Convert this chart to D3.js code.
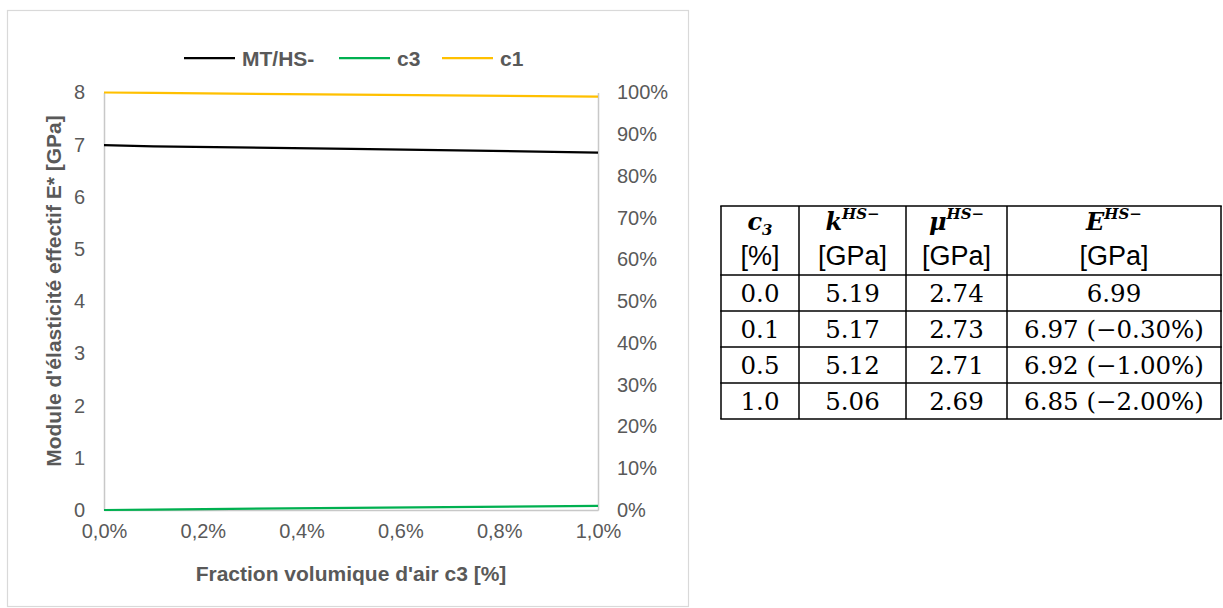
<!DOCTYPE html>
<html><head><meta charset="utf-8">
<script src="https://cdn.jsdelivr.net/npm/d3@7"></script>
<style>body{margin:0;background:#fff}</style>
</head><body><svg id="c" width="1223" height="608"></svg>
<script>
// ---- data ----
const xValues = [0, 0.1, 0.5, 1.0];            // c3 [%]
const modulusHS = [6.99, 6.97, 6.92, 6.85];     // MT/HS- [GPa]
const fracC3 = [0, 0.001, 0.005, 0.01];         // secondary axis
const fracC1 = [1, 0.999, 0.995, 0.99];         // secondary axis
const xTicks = [0, 0.2, 0.4, 0.6, 0.8, 1.0];
const xTickLabels = ["0,0%", "0,2%", "0,4%", "0,6%", "0,8%", "1,0%"];
const yTicks = [0, 1, 2, 3, 4, 5, 6, 7, 8];
const y2Ticks = [0, 0.1, 0.2, 0.3, 0.4, 0.5, 0.6, 0.7, 0.8, 0.9, 1.0];
const y2TickLabels = ["0%", "10%", "20%", "30%", "40%", "50%", "60%", "70%", "80%", "90%", "100%"];
const seriesNames = ["MT/HS-", "c3", "c1"];
const seriesColors = ["#000000", "#00b050", "#ffc000"];
const xTitle = "Fraction volumique d'air c3 [%]";
const yTitle = "Module d'élasticité effectif E* [GPa]";
// table
const colC3 = ["0.0", "0.1", "0.5", "1.0"];
const colK = ["5.19", "5.17", "5.12", "5.06"];
const colMu = ["2.74", "2.73", "2.71", "2.69"];
const colE = ["6.99", "6.97 (−0.30%)", "6.92 (−1.00%)", "6.85 (−2.00%)"];
const headSym = [["c", "3", "sub"], ["k", "HS−", "sup"], ["μ", "HS−", "sup"], ["E", "HS−", "sup"]];
const headUnit = ["[%]", "[GPa]", "[GPa]", "[GPa]"];

// ---- layout ----
const svg = d3.select("#c");
const sans = "'Liberation Sans', Arial, sans-serif";
const serif = "'DejaVu Serif', 'Liberation Serif', serif";
const grey = "#595959";
svg.append("rect").attr("width", 1223).attr("height", 608).attr("fill", "#fff");
svg.append("rect").attr("x", 7.5).attr("y", 10.5).attr("width", 681).attr("height", 596)
  .attr("fill", "none").attr("stroke", "#d9d9d9").attr("stroke-width", 1.2);

const x = d3.scaleLinear().domain([0, 1]).range([104, 598]);
const y = d3.scaleLinear().domain([0, 8]).range([510, 92.5]);
const y2 = d3.scaleLinear().domain([0, 1]).range([510, 92.5]);

function styleAxis(g) {
  g.select(".domain").attr("stroke", "#c8c8c8").attr("stroke-width", 1.5);
  g.selectAll("text").attr("font-family", sans).attr("font-size", 20).attr("fill", grey);
}
svg.append("g").attr("transform", "translate(104,0)")
  .call(d3.axisLeft(y).tickValues(yTicks).tickSize(0).tickPadding(19).tickSizeOuter(0))
  .call(styleAxis);
svg.append("g").attr("transform", "translate(598,0)")
  .call(d3.axisRight(y2).tickValues(y2Ticks).tickSize(0).tickPadding(19).tickSizeOuter(0)
    .tickFormat((d, i) => y2TickLabels[i]))
  .call(styleAxis);
svg.append("g").attr("transform", "translate(0,510)")
  .call(d3.axisBottom(x).tickValues(xTicks).tickSize(0).tickPadding(14).tickSizeOuter(0)
    .tickFormat((d, i) => xTickLabels[i]))
  .call(styleAxis);

const series = [
  xValues.map((v, i) => [x(v), y(modulusHS[i])]),
  xValues.map((v, i) => [x(v), y2(fracC3[i])]),
  xValues.map((v, i) => [x(v), y2(fracC1[i])])
];
const line = d3.line();
series.forEach((pts, i) => {
  svg.append("path").attr("d", line(pts)).attr("fill", "none")
    .attr("stroke", seriesColors[i]).attr("stroke-width", 2.25);
});

// titles
svg.append("text").attr("x", 351).attr("y", 581).attr("text-anchor", "middle")
  .attr("font-family", sans).attr("font-weight", "bold").attr("font-size", 21).attr("fill", grey).text(xTitle);
svg.append("text").attr("transform", "translate(61,291) rotate(-90)").attr("text-anchor", "middle")
  .attr("font-family", sans).attr("font-weight", "bold").attr("font-size", 21).attr("fill", grey).text(yTitle);

// legend
const legX = [184, 339, 442];
seriesNames.forEach((n, i) => {
  svg.append("line").attr("x1", legX[i]).attr("x2", legX[i] + 51).attr("y1", 58).attr("y2", 58)
    .attr("stroke", seriesColors[i]).attr("stroke-width", 2.25);
  svg.append("text").attr("x", legX[i] + 58).attr("y", 58).attr("dy", "0.36em")
    .attr("font-family", sans).attr("font-weight", "bold").attr("font-size", 21).attr("fill", grey).text(n);
});

// ---- table ----
const colEdges = [721, 799, 906, 1007, 1221];
const rowEdges = [206, 275, 311, 347, 383, 419];
const tb = svg.append("g");
colEdges.forEach(cx => tb.append("line").attr("x1", cx).attr("x2", cx)
  .attr("y1", rowEdges[0]).attr("y2", rowEdges[rowEdges.length - 1]).attr("stroke", "#000").attr("stroke-width", 1.5));
rowEdges.forEach(ry => tb.append("line").attr("y1", ry).attr("y2", ry)
  .attr("x1", colEdges[0] - 0.75).attr("x2", colEdges[colEdges.length - 1] + 0.75).attr("stroke", "#000").attr("stroke-width", 1.5));
const colCenters = colEdges.slice(0, -1).map((e, i) => (e + colEdges[i + 1]) / 2);
headSym.forEach((h, i) => {
  const t = tb.append("text").attr("x", colCenters[i]).attr("y", 230).attr("text-anchor", "middle")
    .attr("font-family", serif).attr("font-weight", "bold").attr("font-style", "italic").attr("font-size", 24);
  t.append("tspan").text(h[0]);
  t.append("tspan").attr("font-size", 15).attr("dy", h[2] === "sub" ? 5 : -11).text(h[1]);
  tb.append("text").attr("x", colCenters[i]).attr("y", 265).attr("text-anchor", "middle")
    .attr("font-family", sans).attr("font-size", 27).text(headUnit[i]);
});
[colC3, colK, colMu, colE].forEach((col, ci) => {
  col.forEach((v, ri) => {
    tb.append("text").attr("x", colCenters[ci]).attr("y", rowEdges[ri + 1] + 27).attr("text-anchor", "middle")
      .attr("font-family", serif).attr("font-size", 24.5).text(v);
  });
});
</script></body></html>
